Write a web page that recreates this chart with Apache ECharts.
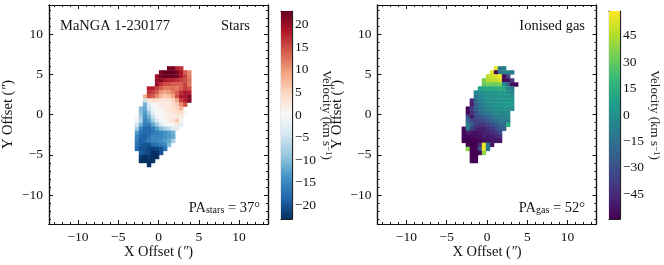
<!DOCTYPE html>
<html><head><meta charset="utf-8">
<style>html,body{margin:0;padding:0;background:#fff}#c{width:664px;height:265px}</style>
<script src="https://cdn.jsdelivr.net/npm/echarts@6/dist/echarts.min.js"></script>
</head><body><div id="c"></div>
<script>
// rows run top to bottom; each row: [first column index, values...]
const starsRows = [
[8,22,22,18,17],
[6,22,23,23,23,22,19,14,11],
[5,20,22,23,23,23,22,19,16,12],
[5,20,21,19,18,18,17,16,15,13],
[5,20,17,15,15,14,14,14,16,12],
[3,18,18,16,14,12,12,13,12,14,16,15],
[3,17,16,14,10,9,10,12,14,17,19,18],
[2,8,15,14,11,8,6,7,9,15,19,19,21],
[2,-5,3,4,4,3,3,3,5,9,16,18,21],
[2,-11,-4,0,1,2,2,2,4,6,11,15],
[1,-10,-12,-5,-1,0,1,2,3,4,5,8],
[1,-10,-13,-8,-2,0,0,1,2,3,4,4,1],
[0,0,-8,-14,-11,-5,-1,0,1,2,2,2,2],
[0,-1,-7,-15,-13,-8,-3,-1,0,2,3,6,1],
[0,-4,-11,-16,-16,-12,-8,-3,-1,0,1,2,-2],
[0,-8,-15,-18,-18,-16,-13,-10,-8,-6,-3,-3],
[0,-13,-17,-18,-18,-17,-16,-15,-14,-13,-11],
[0,-15,-18,-19,-17,-15,-15,-15,-14,-13,-12],
[0,-16,-19,-18,-16,-15,-15,-14,-13,-12,-8],
[0,-17,-19,-20,-20,-18,-17,-16,-15,-10],
[0,-18,-20,-20,-21,-22,-21,-20,-17],
[1,-19,-20,-21,-23,-23,-20],
[1,-22,-23,-22,-23,-23],
[1,-23,-23,-23,-23],
[3,-23]
];
const gasRows = [
[8,55,-12,-10],
[7,55,-58,-12,-4,-6,-9],
[6,47,50,52,56,-57,-35],
[5,35,45,46,47,52,-58,-55,-40],
[5,30,34,33,31,35,-2,-22,-55,-58],
[4,8,11,13,13,14,16,12,-6,-10],
[3,-5,-1,2,3,2,3,5,7,-1,-5],
[3,-12,-6,-3,0,1,1,2,3,0,-1],
[2,-47,-18,-9,-3,0,0,2,3,2,5,3],
[2,-52,-24,-13,-7,-3,-1,0,2,3,5,4],
[1,-58,-38,-24,-14,-8,-5,-3,-1,0,2,0,-1],
[1,-58,-44,-30,-20,-14,-10,-7,-3,-3,-5,-3],
[1,-32,-50,-33,-27,-23,-20,-14,-9,-6,-6,-5],
[1,-18,-34,-35,-33,-30,-27,-22,-16,-12,-10,-8],
[1,-11,-24,-38,-40,-40,-35,-30,-25,-19,-18,15],
[0,-57,-8,-34,-45,-48,-48,-44,-39,-32,-26,-21],
[0,-57,-50,-52,-54,-52,-50,-47,-43,-40,-33],
[0,-58,-58,-56,-55,-54,-48,-52,-50,-47,-43],
[0,-59,-59,-59,-59,-58,-55,-53,-50,-52,-52],
[1,-59,-59,-59,-45,56,-10,-52],
[1,38,-59,-59,-30,56,-12],
[2,-59,-59,-59,38],
[2,-59,-59],
[2,-59,-59]
];
const starsX0 = -2.7, gasX0 = -2.9, rowY0 = 5.75, cell = 0.5;
const offsetMajor = [-10,-5,0,5,10];
const offsetMinor = [-13,-12,-11,-10,-9,-8,-7,-6,-5,-4,-3,-2,-1,0,1,2,3,4,5,6,7,8,9,10,11,12,13];
const offsetLimit = 13.6;
const starsTicks = [-20,-15,-10,-5,0,5,10,15,20];
const gasTicks = [-45,-30,-15,0,15,30,45];
const starsLimit = 23, gasLimit = 59;
const rdbu = ['#053061','#2166ac','#4393c3','#92c5de','#d1e5f0','#f7f7f7','#fddbc7','#f4a582','#d6604d','#b2182b','#67001f'];
const viridis = ['#440154','#482878','#3e4989','#31688e','#26828e','#1f9e89','#35b779','#6ece58','#b5de2b','#fde725'];

const FONT = '"Liberation Serif", serif', INK = '#111';
const cells = (rows, x0) => rows.flatMap((r, j) => r.slice(1).map((v, k) =>
  [x0 + (r[0] + k) * cell, rowY0 - j * cell, v]));
const fmt = v => String(v).replace('-', '\u2212');
const nameRich = {it:{fontFamily:FONT,fontStyle:'italic',fontSize:14,color:INK},
                  sup:{fontFamily:FONT,fontSize:9,color:'#222',verticalAlign:'top',padding:[0,0,5,0]}};

const grids=[], xAxes=[], yAxes=[], series=[], vms=[];
function addPanel(left, rows, x0){
  const rect={left,top:5,width:219,height:219,outerBoundsMode:'none'};
  const g=grids.length;
  grids.push(rect,{...rect});
  const line={show:true,onZero:false,lineStyle:{color:INK,width:1.2}};
  const base=(pos,extra)=>({type:'value',min:-offsetLimit,max:offsetLimit,position:pos,splitLine:{show:false},axisLine:line,...extra});
  const major=(show)=>({axisTick:{inside:true,length:4,lineStyle:{color:INK,width:1},customValues:offsetMajor},
    axisLabel:{show,margin:6,fontFamily:FONT,fontSize:13.5,color:INK,customValues:offsetMajor,formatter:fmt,showMinLabel:true,showMaxLabel:true}});
  const minor={axisTick:{inside:true,length:2,lineStyle:{color:INK,width:1},customValues:offsetMinor},axisLabel:{show:false}};
  xAxes.push(
    base('bottom',{gridIndex:g,...major(true),name:'X Offset ({it|\u2033})',nameLocation:'middle',nameGap:21,nameMoveOverlap:false,
      nameTextStyle:{fontFamily:FONT,fontSize:14.5,color:INK,rich:nameRich}}),
    base('top',{gridIndex:g,...major(false)}),
    base('bottom',{gridIndex:g+1,...minor}),
    base('top',{gridIndex:g+1,...minor}));
  yAxes.push(
    base('left',{gridIndex:g,...major(true),name:'Y Offset ({it|\u2033})',nameLocation:'middle',nameGap:33,nameRotate:90,nameMoveOverlap:false,
      nameTextStyle:{fontFamily:FONT,fontSize:14.5,color:INK,rich:nameRich}}),
    base('right',{gridIndex:g,...major(false)}),
    base('left',{gridIndex:g+1,...minor}),
    base('right',{gridIndex:g+1,...minor}));
  const xi=xAxes.length-4, yi=yAxes.length-4;
  series.push({type:'custom',coordinateSystem:'cartesian2d',xAxisIndex:xi,yAxisIndex:yi,
    data:cells(rows,x0),encode:{x:0,y:1},silent:true,clip:true,
    renderItem(p,api){
      const c=api.coord([api.value(0),api.value(1)]), s=api.size([cell,cell]);
      return {type:'rect',shape:{x:c[0]-s[0]/2,y:c[1]-s[1]/2,width:s[0]+.4,height:s[1]+.4},
        style:{fill:api.visual('color')}};
    }});
  return series.length-1;
}
function addBar(left, limit, ticks, colors){
  const g=grids.length;
  grids.push({left,top:11,width:11,height:208,outerBoundsMode:'none'});
  const line={show:true,onZero:false,lineStyle:{color:'#222',width:1.2}};
  xAxes.push({type:'value',gridIndex:g,min:0,max:1,axisLine:line,axisTick:{show:false},axisLabel:{show:false},splitLine:{show:false},position:'bottom'});
  xAxes.push({type:'value',gridIndex:g,min:0,max:1,axisLine:line,axisTick:{show:false},axisLabel:{show:false},splitLine:{show:false},position:'top'});
  yAxes.push({type:'value',gridIndex:g,min:-limit,max:limit,position:'left',axisLine:line,axisTick:{show:false},axisLabel:{show:false},splitLine:{show:false}});
  yAxes.push({type:'value',gridIndex:g,min:-limit,max:limit,position:'right',axisLine:line,splitLine:{show:false},
    axisTick:{inside:true,length:3,lineStyle:{color:'#222',width:1},customValues:ticks},
    axisLabel:{margin:3,fontFamily:FONT,fontSize:13.5,color:INK,customValues:ticks,formatter:fmt,showMinLabel:true,showMaxLabel:true},
    name:'Velocity (km s{sup|\u22121})',nameLocation:'middle',nameRotate:-90,nameGap:27,nameMoveOverlap:false,
    nameTextStyle:{fontFamily:FONT,fontSize:13,color:'#222',rich:nameRich}});
  series.push({type:'custom',coordinateSystem:'cartesian2d',xAxisIndex:xAxes.length-2,yAxisIndex:yAxes.length-1,
    data:[[0,-limit,1,limit]],silent:true,z:1,
    renderItem(p,api){
      const a=api.coord([0,limit]), b=api.coord([1,-limit]);
      return {type:'rect',shape:{x:a[0],y:a[1],width:b[0]-a[0],height:b[1]-a[1]},
        style:{fill:new echarts.graphic.LinearGradient(0,1,0,0,colors.map((c,i)=>({offset:i/(colors.length-1),color:c})))}};
    }});
}
const sStars=addPanel(49,starsRows,starsX0);
const sGas=addPanel(377.5,gasRows,gasX0);
addBar(281,starsLimit,starsTicks,rdbu);
addBar(609,gasLimit,gasTicks,viridis);
vms.push({type:'continuous',show:false,seriesIndex:sStars,dimension:2,min:-starsLimit,max:starsLimit,inRange:{color:rdbu}},
         {type:'continuous',show:false,seriesIndex:sGas,dimension:2,min:-gasLimit,max:gasLimit,inRange:{color:viridis}});

const txt=(x,y,text,align)=>({type:'text',x,y,style:{text,align:align||'left',verticalAlign:'middle',fontFamily:FONT,fontSize:14.5,fill:INK,
  rich:{s:{fontFamily:FONT,fontSize:10,fill:INK,padding:[5,0,0,0]}}}});
const chart=echarts.init(document.getElementById('c'),null,{renderer:'canvas'});
chart.setOption({animation:false,backgroundColor:'#fff',grid:grids,xAxis:xAxes,yAxis:yAxes,visualMap:vms,series,
  graphic:[
    txt(60,26,'MaNGA 1-230177'),
    txt(250,26,'Stars','right'),
    txt(260,208,'PA{s|stars} = 37\u00b0','right'),
    txt(585,26,'Ionised gas','right'),
    txt(585,208,'PA{s|gas} = 52\u00b0','right')
  ]});
</script></body></html>
